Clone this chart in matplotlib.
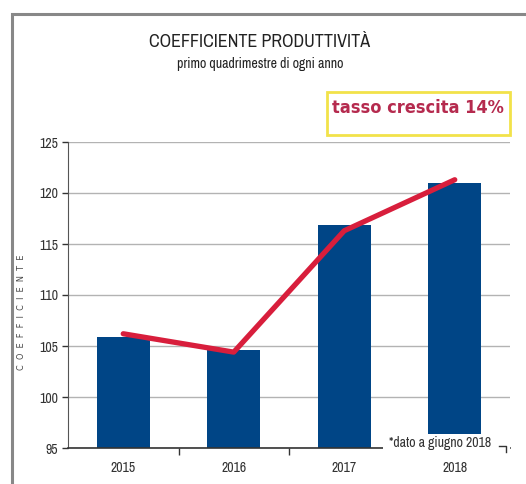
import matplotlib.pyplot as plt
from matplotlib.lines import Line2D
from matplotlib.patches import Rectangle

# Dati del grafico
anni = ["2015", "2016", "2017", "2018"]
coefficiente = [105.9, 104.6, 116.9, 121.0]
andamento = [106.2, 104.4, 116.3, 121.3]
tick_y = [95, 100, 105, 110, 115, 120, 125]

# carattere stretto
plt.rcParams['font.family'] = ['Archivo Narrow', 'DejaVu Sans']
plt.rcParams['font.stretch'] = 'condensed'

fig = plt.figure(figsize=(5.26, 4.84), dpi=100)

# cornice grigia esterna
fig.patches.append(Rectangle((12 / 526, -0.01), 1.0, (484 - 14) / 484 + 0.01,
                             transform=fig.transFigure, fill=False,
                             edgecolor="#888888", linewidth=2.2))

ax = fig.add_axes([68 / 526, (484 - 448) / 484, (510 - 68) / 526, (448 - 142) / 484])

x = list(range(len(anni)))
ax.bar(x, coefficiente, width=0.48, color="#004586", zorder=2)
ax.plot(x, andamento, color="#d81e3c", linewidth=3.8, solid_capstyle="round", zorder=3)

ax.set_xlim(-0.5, 3.5)
ax.set_ylim(95, 125)
ax.set_yticks(tick_y)
ax.set_yticklabels([str(v) for v in tick_y], fontsize=10, color="#333333")
ax.set_xticks(x)
ax.set_xticklabels(anni, fontsize=10, color="#333333")
ax.tick_params(axis="x", length=0, pad=9)
ax.tick_params(axis="y", length=4, width=1, color="#333333", pad=3)
ax.set_xticks([0.5, 1.5], minor=True)
ax.tick_params(axis="x", which="minor", length=5, width=1, color="#333333")

ax.grid(axis="y", color="#b3b3b3", linewidth=1, zorder=0)
for side in ["top", "right"]:
    ax.spines[side].set_visible(False)
ax.spines["left"].set_color("#555555")
ax.spines["bottom"].set_color("#333333")
ax.spines["bottom"].set_linewidth(1.2)

# etichetta asse y spaziata
fig.text(22 / 526, (484 - 312) / 484, "C  O  E  F  F  I  C  I  E  N  T  E", rotation=90,
         ha="center", va="center", fontsize=6.5, color="#444444", family="DejaVu Sans")

fig.text(0.494, 0.913, "COEFFICIENTE PRODUTTIVITÀ", ha="center", va="center",
         fontsize=13, color="#222222")
fig.text(0.494, 0.867, "primo quadrimestre di ogni anno", ha="center", va="center",
         fontsize=10, color="#222222")

# riquadro con il tasso di crescita
fig.patches.append(Rectangle((327 / 526, (484 - 135) / 484), (510 - 327) / 526, 43 / 484,
                             transform=fig.transFigure, fill=False,
                             edgecolor="#f2e24a", linewidth=2))
fig.text(418 / 526, (484 - 108) / 484, "tasso crescita 14%", ha="center", va="center",
         fontsize=13, fontweight="bold", color="#b52a4e", family="DejaVu Sans")

# nota a piè di grafico su fondo bianco
fig.patches.append(Rectangle((383 / 526, (484 - 454) / 484), (510 - 383) / 526, 20 / 484,
                             transform=fig.transFigure, facecolor="white",
                             edgecolor="none"))
fig.text(389 / 526, (484 - 443) / 484, "*dato a giugno 2018", ha="left", va="center",
         fontsize=10, color="#333333")
# piccolo segno a fianco della nota
fig.lines.append(Line2D([499 / 526, 506 / 526, 506 / 526],
                        [(484 - 446) / 484, (484 - 446) / 484, (484 - 452) / 484],
                        transform=fig.transFigure, color="#333333", linewidth=1))

fig.savefig("out.png", dpi=100)
